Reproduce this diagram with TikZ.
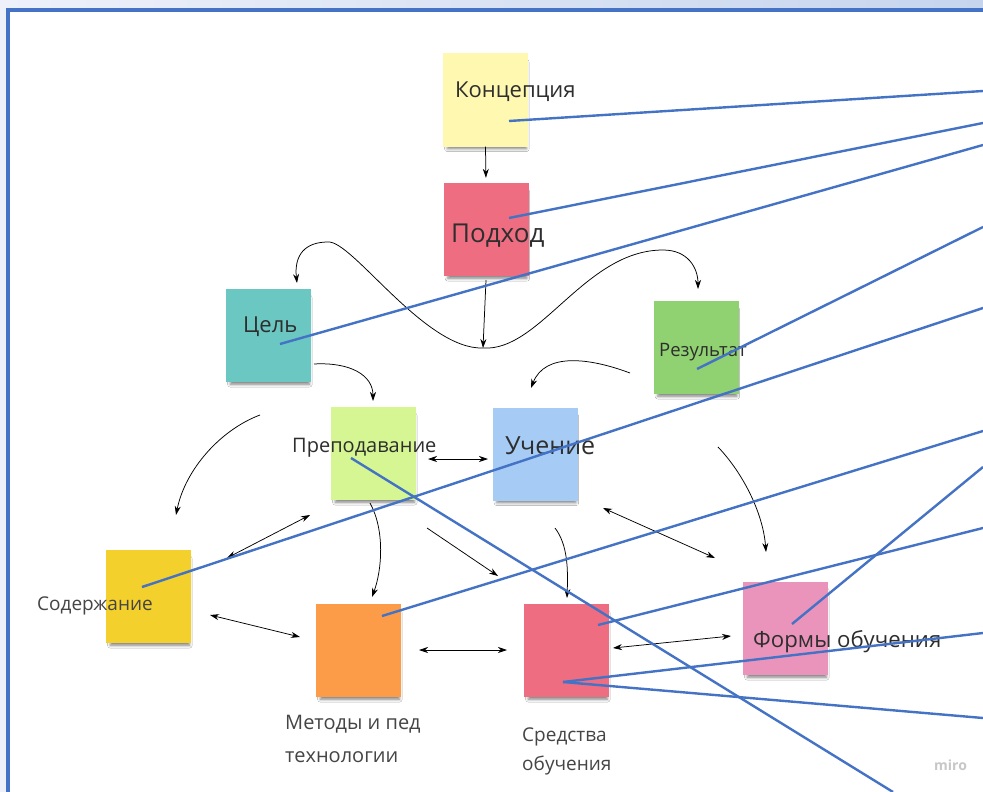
\documentclass[tikz,border=0pt]{standalone}
\usepackage{fontspec}
\setmainfont{Open Sans}
\usetikzlibrary{arrows.meta,shadows.blur}
\definecolor{frameblue}{HTML}{4472C4}
\definecolor{bgA}{HTML}{EEF1FA}
\definecolor{bgB}{HTML}{C6D4EE}
\definecolor{txtgray}{HTML}{2E2E2E}
\definecolor{outgray}{HTML}{454545}
\definecolor{paleyellow}{HTML}{FFF8B0}
\definecolor{rosered}{HTML}{EE6D80}
\definecolor{teal}{HTML}{6BC7C1}
\definecolor{leafgreen}{HTML}{90D172}
\definecolor{limegreen}{HTML}{D5F692}
\definecolor{skyblue}{HTML}{A6CCF5}
\definecolor{sunyellow}{HTML}{F4D02C}
\definecolor{orange}{HTML}{FD9C48}
\definecolor{pink}{HTML}{EA94BB}
\tikzset{
  sticky/.style={minimum width=85pt, minimum height=93pt, inner sep=0pt,
    blur shadow={shadow xshift=1.5pt, shadow yshift=-6pt, shadow scale=0.93, shadow opacity=50, shadow blur radius=3pt}},
  lbl/.style={anchor=base west, inner sep=0pt, text=txtgray},
  link/.style={draw=frameblue, line width=2.4pt},
  arr/.style={-{Stealth[length=9pt,width=6pt]}, line width=0.75pt},
  darr/.style={{Stealth[length=9pt,width=6pt]}-{Stealth[length=9pt,width=6pt]}, line width=0.75pt},
}
\newcommand{\fsz}[1]{\fontsize{#1}{#1}\selectfont}
\begin{document}
\begin{tikzpicture}[x=1pt,y=-1pt]
\useasboundingbox (0,0) rectangle (983,792);
\clip (0,0) rectangle (983,792);
% frame
\shade[left color=bgA, right color=bgB] (0,0) rectangle (983,792);
\fill[white] (8,10) rectangle (983,792);
\draw[frameblue, line width=4pt] (8,795) -- (8,10) -- (986,10);

% sticky notes
\node[sticky, fill=paleyellow] (konc) at (485.5,100) {};
\node[sticky, fill=rosered] (podh) at (486,229.5) {};
\node[sticky, fill=teal] (cel) at (268.5,335.5) {};
\node[sticky, fill=leafgreen] (rez) at (696,347.5) {};
\node[sticky, fill=limegreen] (prep) at (373.5,453.5) {};
\node[sticky, fill=skyblue] (uch) at (535,454) {};
\node[sticky, fill=sunyellow] (sod) at (148.5,596.5) {};
\node[sticky, fill=orange] (met) at (358.5,650.5) {};
\node[sticky, fill=rosered] (sred) at (566.5,650.5) {};
\node[sticky, fill=pink] (form) at (785.5,628.5) {};

% labels
\node[lbl, font=\fsz{22}] (konc-txt) at (455,97) {Концепция};
\node[lbl, font=\fsz{26}] (podh-txt) at (451,242) {Подход};
\node[lbl, font=\fsz{22}] (cel-txt) at (243,332) {Цель};
\node[lbl, font=\fsz{18.5}] (rez-txt) at (659,356) {Результат};
\node[lbl, font=\fsz{20}] (prep-txt) at (292,452) {Преподавание};
\node[lbl, font=\fsz{25}] (uch-txt) at (505,454) {Учение};
\node[lbl, font=\fsz{19}, text=outgray] (sod-txt) at (37,610) {Содержание};
\node[lbl, font=\fsz{20}, text=outgray] (met-txt1) at (285,729) {Методы и пед};
\node[lbl, font=\fsz{20}, text=outgray] (met-txt2) at (285,762) {технологии};
\node[lbl, font=\fsz{19}, text=outgray] (sred-txt1) at (522,741) {Средства};
\node[lbl, font=\fsz{19}, text=outgray] (sred-txt2) at (522,770) {обучения};
\node[lbl, font=\fsz{22.2}] (form-txt) at (753,647) {Формы обучения};
\node[lbl, font=\bfseries\fsz{14}, text=black!22] (miro) at (934,770) {miro};

% free ends of the black arrows
\coordinate (dip) at (483,348);
\coordinate (cel-top) at (297,283);
\coordinate (rez-top) at (698,289);
\coordinate (cel-out) at (314,364);
\coordinate (prep-in) at (373,401);
\coordinate (rez-out) at (630,373);
\coordinate (uch-in) at (531,388);
\coordinate (sod-from) at (260,415);
\coordinate (sod-in) at (176,515);
\coordinate (sod-ne) at (227,558);
\coordinate (prep-sw) at (310,515);
\coordinate (sod-e) at (210,615);
\coordinate (met-w) at (300,637);
\coordinate (prep-e) at (428,459);
\coordinate (uch-w) at (488,459);
\coordinate (prep-s) at (370,503);
\coordinate (met-n) at (372,597);
\coordinate (prep-se) at (427,528);
\coordinate (sred-nw) at (498,576);
\coordinate (uch-s) at (555,528);
\coordinate (sred-n) at (567,598);
\coordinate (uch-se) at (603,508);
\coordinate (form-nw) at (715,558);
\coordinate (rez-s) at (718,447);
\coordinate (form-n) at (766,552);
\coordinate (met-e) at (419,650);
\coordinate (sred-w) at (507,650);
\coordinate (sred-e) at (613,648);
\coordinate (form-w) at (731,636);

% black arrows
\draw[arr, shorten >=5pt] (konc.south) -- (podh.north);
\draw[arr] ([yshift=-4pt]podh.south) -- (dip);
\draw[darr] (cel-top) .. controls (294,255) and (305,242) .. (328,242)
  .. controls (352,240) and (425,350) .. (dip)
  .. controls (540,352) and (585,250) .. (663,250)
  .. controls (688,250) and (698,268) .. (rez-top);
\draw[arr] (cel-out) .. controls (350,362) and (373,375) .. (prep-in);
\draw[arr] (rez-out) .. controls (590,358) and (545,352) .. (uch-in);
\draw[arr] (sod-from) .. controls (220,430) and (185,470) .. (sod-in);
\draw[darr] (sod-ne) -- (prep-sw);
\draw[darr] (sod-e) -- (met-w);
\draw[darr] (prep-e) -- (uch-w);
\draw[arr] (prep-s) .. controls (385,530) and (382,570) .. (met-n);
\draw[arr] (prep-se) -- (sred-nw);
\draw[arr] (uch-s) .. controls (568,545) and (568,570) .. (sred-n);
\draw[darr] (uch-se) -- (form-nw);
\draw[arr] (rez-s) .. controls (742,472) and (763,512) .. (form-n);
\draw[darr] (met-e) -- (sred-w);
\draw[darr] (sred-e) -- (form-w);

% blue links out to the right
\coordinate (konc-pin) at (509,121);
\coordinate (podh-pin) at (509,218);
\coordinate (cel-pin) at (280,344);
\coordinate (rez-pin) at (697,369);
\coordinate (sod-pin) at (142,587);
\coordinate (met-pin) at (382,616);
\coordinate (form-pin) at (792,624);
\coordinate (sred-pin) at (598,625);
\coordinate (sred-low) at (563,682);
\coordinate (prep-pin) at (351,458);
\draw[link] (konc-pin) -- (983,91);
\draw[link] (podh-pin) -- (983,123);
\draw[link] (cel-pin) -- (983,145);
\draw[link] (rez-pin) -- (983,227);
\draw[link] (sod-pin) -- (983,308);
\draw[link] (met-pin) -- (983,431);
\draw[link] (form-pin) -- (983,467);
\draw[link] (sred-pin) -- (983,528);
\draw[link] (sred-low) -- (983,633);
\draw[link] (sred-low) -- (983,718);
\draw[link] (prep-pin) -- (893,792);
\end{tikzpicture}
\end{document}
